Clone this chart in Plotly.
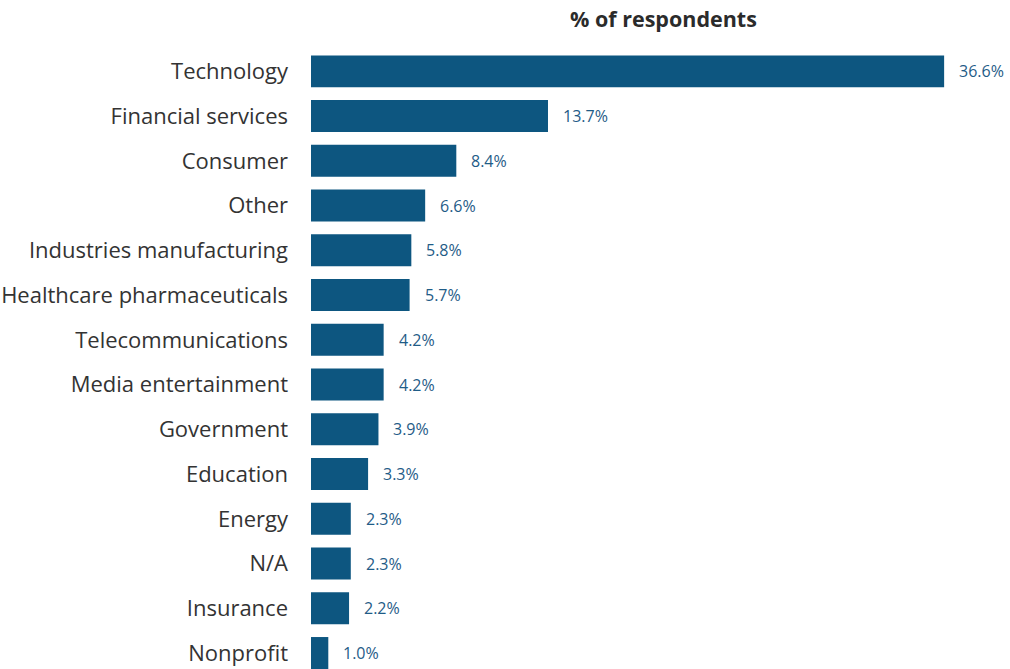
import plotly.graph_objects as go

categories = ["Technology", "Financial services", "Consumer", "Other", "Industries manufacturing",
              "Healthcare pharmaceuticals", "Telecommunications", "Media entertainment", "Government",
              "Education", "Energy", "N/A", "Insurance", "Nonprofit"]
values = [36.6, 13.7, 8.4, 6.6, 5.8, 5.7, 4.2, 4.2, 3.9, 3.3, 2.3, 2.3, 2.2, 1.0]
labels = [f"{v:.1f}%" for v in values]

FONT = "Open Sans"
BAR = "#0d5680"
fig = go.Figure()
fig.add_trace(go.Bar(
    x=values, y=categories, orientation="h",
    marker=dict(color=BAR, line=dict(width=0)),
    width=0.715, hoverinfo="skip",
))
for c, v, t in zip(categories, values, labels):
    fig.add_annotation(x=v, y=c, text=t, xanchor="left", yanchor="middle", showarrow=False,
                       xshift=13, font=dict(family=FONT, size=16, color="#1f5c87"))

fig.add_annotation(x=0.511, y=1, xref="paper", yref="paper", yshift=31, yanchor="middle",
                   text="<b>% of respondents</b>", showarrow=False,
                   font=dict(family=FONT, size=21.5, color="#2b2b2b"))

fig.update_layout(
    width=1010, height=669,
    margin=dict(l=311, r=10, t=49, b=0),
    paper_bgcolor="white", plot_bgcolor="white",
    showlegend=False,
    xaxis=dict(range=[0, 39.83], visible=False, fixedrange=True),
    yaxis=dict(range=[13.357, -0.5], type="category", categoryorder="array", categoryarray=categories,
               showgrid=False, zeroline=False, showline=False, ticks="",
               ticklabelstandoff=22, automargin=False, fixedrange=True,
               tickfont=dict(family=FONT, size=22, color="#333333")),
)
fig.write_html("out.html", config={"displayModeBar": False, "staticPlot": True},
               post_script="document.body.style.margin='0';document.body.style.padding='0';")
